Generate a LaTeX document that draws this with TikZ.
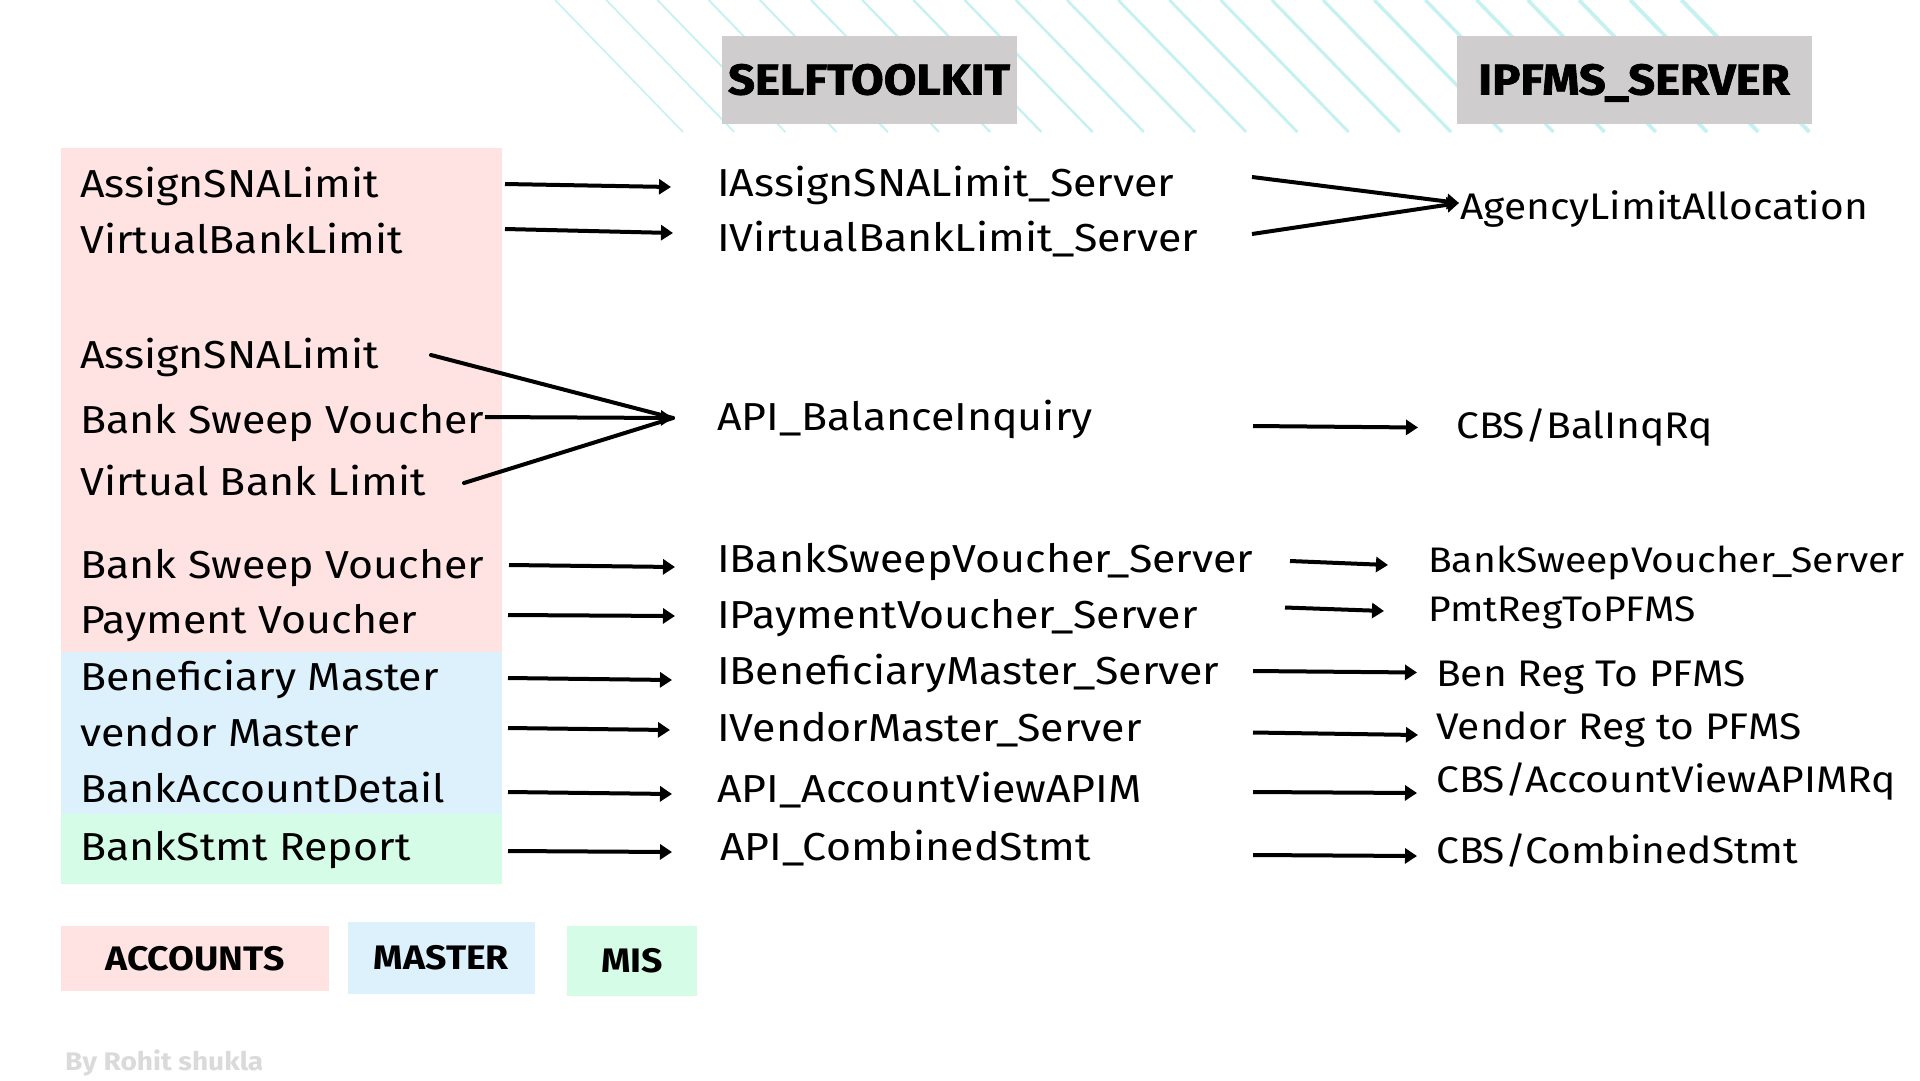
\documentclass[tikz,border=0pt]{standalone}
\usepackage{fontspec}
\setmainfont{Fira Sans}[FakeStretch=1.1]
\newfontfamily\heavyfont{Fira Sans Bold}[FakeStretch=1.1, FakeBold=1.6]
\usetikzlibrary{arrows.meta}
\definecolor{pinkbg}{HTML}{FFE3E3}
\definecolor{bluebg}{HTML}{DDF1FD}
\definecolor{greenbg}{HTML}{D4FCE6}
\definecolor{titlegray}{HTML}{CFCDCD}
\definecolor{hatchcol}{HTML}{C5F1F1}
\definecolor{creditcol}{HTML}{DADADA}
\begin{document}
\begin{tikzpicture}[x=1pt,y=-1pt,
  lbl/.style={anchor=base west, inner sep=0pt, font=\fontsize{39}{44}\selectfont},
  rlbl/.style={anchor=base west, inner sep=0pt, font=\fontsize{37}{42}\selectfont},
  sml/.style={anchor=base west, inner sep=0pt, font=\fontsize{35.5}{40}\selectfont},
  titlebox/.style={fill=titlegray, inner sep=0pt, text height=29pt, text depth=0pt, font=\heavyfont\fontsize{43}{46}\selectfont},
  legbox/.style={inner sep=0pt, text height=23pt, text depth=0pt, font=\bfseries\fontsize{34}{36}\selectfont},
  conn/.style={line width=4pt, -{Triangle[length=12pt,width=15pt]}},
  plain/.style={line width=4pt, line cap=round}]
\useasboundingbox (0,0) rectangle (1920,1080);
\fill[white] (0,0) rectangle (1920,1080);
% hatching
\foreach \i in {0,...,22}{
  \pgfmathsetmacro{\xx}{555+51.2*\i}
  \pgfmathsetmacro{\ww}{1.5+0.11*\i}
  \draw[hatchcol, line width=\ww pt] (\xx,0) -- ++(128,132);
}
% title boxes
\node[titlebox, minimum width=295pt, minimum height=88pt] (selft) at (869,80) {SELFTOOLKIT};
\node[titlebox, minimum width=355pt, minimum height=88pt] (ipfms) at (1634,80) {IPFMS\_SERVER};
% category backgrounds
\fill[pinkbg] (61,148) rectangle (502,652);
\fill[bluebg] (61,652) rectangle (502,814);
\fill[greenbg] (61,814) rectangle (502,884);
% left column
\node[lbl] (l1) at (80,197) {AssignSNALimit};
\node[lbl] (l2) at (80,253) {VirtualBankLimit};
\node[lbl] (l3) at (80,368) {AssignSNALimit};
\node[lbl] (l4) at (80,433) {Bank Sweep Voucher};
\node[lbl] (l5) at (80,495) {Virtual Bank Limit};
\node[lbl] (l6) at (80,578) {Bank Sweep Voucher};
\node[lbl] (l7) at (80,633) {Payment Voucher};
\node[lbl] (l8) at (80,690) {Beneficiary Master};
\node[lbl] (l9) at (80,746) {vendor Master};
\node[lbl] (l10) at (80,802) {BankAccountDetail};
\node[lbl] (l11) at (80,860) {BankStmt Report};
% middle column
\node[lbl] (m1) at (717,196) {IAssignSNALimit\_Server};
\node[lbl] (m2) at (717,251) {IVirtualBankLimit\_Server};
\node[lbl] (m3) at (717,430) {API\_BalanceInquiry};
\node[lbl] (m4) at (717,572) {IBankSweepVoucher\_Server};
\node[lbl] (m5) at (717,628) {IPaymentVoucher\_Server};
\node[lbl] (m6) at (717,684) {IBeneficiaryMaster\_Server};
\node[lbl] (m7) at (717,741) {IVendorMaster\_Server};
\node[lbl] (m8) at (717,802) {API\_AccountViewAPIM};
\node[lbl] (m9) at (720,860) {API\_CombinedStmt};
% right column
\node[rlbl] (r1) at (1460,219) {AgencyLimitAllocation};
\node[rlbl] (r2) at (1456,438) {CBS/BalInqRq};
\node[sml] (r3) at (1428,572) {BankSweepVoucher\_Server};
\node[sml] (r4) at (1428,621) {PmtRegToPFMS};
\node[rlbl] (r5) at (1436,686) {Ben Reg To PFMS};
\node[rlbl] (r6) at (1436,739) {Vendor Reg to PFMS};
\node[rlbl] (r7) at (1436,792) {CBS/AccountViewAPIMRq};
\node[rlbl] (r8) at (1436,863) {CBS/CombinedStmt};
% legend
\node[legbox, fill=pinkbg, minimum width=268pt, minimum height=65pt] (lgacc) at (195,958.5) {ACCOUNTS};
\node[legbox, fill=bluebg, minimum width=187pt, minimum height=72pt] (lgmas) at (441.5,958) {MASTER};
\node[legbox, fill=greenbg, minimum width=130pt, minimum height=70pt] (lgmis) at (632,961) {MIS};
% credit
\node[anchor=base west, inner sep=0pt, text=creditcol, font=\bfseries\fontsize{25.5}{30}\selectfont] (credit) at (65,1070) {By Rohit shukla};
% arrow coordinates
\coordinate (a1s) at (505,184); \coordinate (a1e) at (671,187);
\coordinate (a2s) at (505,229); \coordinate (a2e) at (673,233);
\coordinate (f1s) at (431,355); \coordinate (f2s) at (485,417); \coordinate (f3s) at (464,483); \coordinate (fe) at (673,418);
\coordinate (a4s) at (509,565); \coordinate (a4e) at (675,567);
\coordinate (a5s) at (508,615); \coordinate (a5e) at (675,616);
\coordinate (a6s) at (508,678); \coordinate (a6e) at (672,680);
\coordinate (a7s) at (508,728); \coordinate (a7e) at (670,730);
\coordinate (a8s) at (508,792); \coordinate (a8e) at (672,794);
\coordinate (a9s) at (508,851); \coordinate (a9e) at (672,852);
\coordinate (b1s) at (1252,177); \coordinate (b2s) at (1252,234); \coordinate (be) at (1459,203);
\coordinate (b3s) at (1253,426); \coordinate (b3e) at (1418,427.5);
\coordinate (b4s) at (1290,561); \coordinate (b4e) at (1388,565);
\coordinate (b5s) at (1285,607.5); \coordinate (b5e) at (1384,611);
\coordinate (b6s) at (1253,671); \coordinate (b6e) at (1417,672.5);
\coordinate (b7s) at (1253,732.5); \coordinate (b7e) at (1418,735);
\coordinate (b8s) at (1253,792); \coordinate (b8e) at (1417,793);
\coordinate (b9s) at (1253,855); \coordinate (b9e) at (1417,856);
% left arrows
\draw[conn] (a1s) -- (a1e);
\draw[conn] (a2s) -- (a2e);
\draw[plain] (f1s) -- (fe);
\draw[plain] (f3s) -- (fe);
\draw[conn] (f2s) -- (fe);
\draw[conn] (a4s) -- (a4e);
\draw[conn] (a5s) -- (a5e);
\draw[conn] (a6s) -- (a6e);
\draw[conn] (a7s) -- (a7e);
\draw[conn] (a8s) -- (a8e);
\draw[conn] (a9s) -- (a9e);
% right arrows
\draw[conn] (b1s) -- (be);
\draw[conn] (b2s) -- (be);
\draw[conn] (b3s) -- (b3e);
\draw[conn] (b4s) -- (b4e);
\draw[conn] (b5s) -- (b5e);
\draw[conn] (b6s) -- (b6e);
\draw[conn] (b7s) -- (b7e);
\draw[conn] (b8s) -- (b8e);
\draw[conn] (b9s) -- (b9e);
\end{tikzpicture}
\end{document}
